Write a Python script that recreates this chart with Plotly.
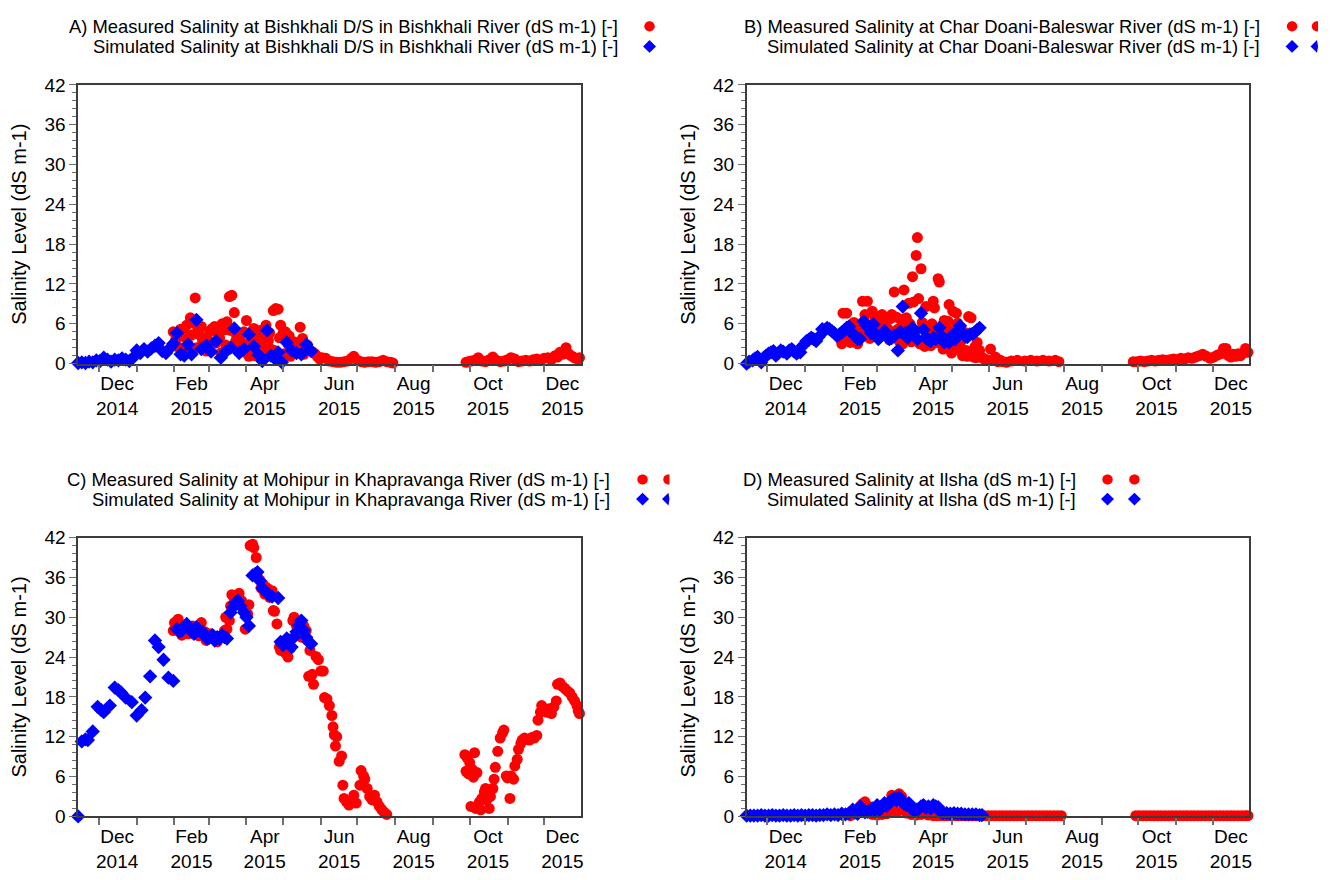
import math
import pandas as pd
import plotly.graph_objects as go

# ---------------- DATA ----------------
BASE_DATE = "2014-11-14"          # day 0 of the day offsets below
X_START, X_END = "2014-11-14", "2015-12-31"

month_starts = ["2014-12-01", "2015-01-01", "2015-02-01", "2015-03-01", "2015-04-01",
                "2015-05-01", "2015-06-01", "2015-07-01", "2015-08-01", "2015-09-01",
                "2015-10-01", "2015-11-01", "2015-12-01"]
label_dates = ["2014-12-16", "2015-02-15", "2015-04-16", "2015-06-16",
               "2015-08-16", "2015-10-16", "2015-12-16"]
label_text = ["Dec<br>2014", "Feb<br>2015", "Apr<br>2015", "Jun<br>2015",
              "Aug<br>2015", "Oct<br>2015", "Dec<br>2015"]

y_title = "Salinity Level (dS m-1)"

# Panel A : Bishkhali D/S
a_meas_day = [78, 80, 82, 84, 85, 86, 88, 89, 90, 92, 93, 94, 96, 97, 98, 100, 101, 102, 104, 105,
              106, 108, 109, 110, 112, 113, 114, 116, 117, 118, 120, 121, 122, 124, 125, 126, 128, 129, 130, 132,
              133, 134, 136, 137, 138, 140, 141, 142, 144, 145, 146, 148, 149, 150, 152, 153, 154, 156, 157, 158,
              160, 161, 162, 164, 165, 166, 168, 169, 170, 172, 173, 174, 176, 177, 178, 180, 181, 182, 184, 185,
              186, 188, 190, 192, 194, 196, 198, 200, 203, 206, 209, 212, 215, 218, 221, 224, 226, 229, 232, 235,
              238, 241, 244, 247, 250, 253, 256, 258,
              318, 320, 322, 325, 328, 331, 334, 337, 340, 343, 346, 349, 352, 355, 358, 361, 364, 367, 370, 373,
              376, 379, 382, 385, 388, 391, 393, 395, 397, 399, 400, 402, 404, 406, 408, 410, 411]
a_meas_val = [4.8, 3.6, 2.5, 5.2, 2.2, 4.1, 4.5, 5.8, 3.0, 6.9, 4.3, 6.2, 9.9, 2.4, 5.4, 4.3, 5.6, 3.4, 2.6, 1.9,
              3.8, 4.9, 2.9, 5.3, 5.6, 3.1, 4.7, 3.9, 1.6, 6.0, 5.1, 2.8, 6.3, 10.1, 5.0, 10.3, 7.7, 3.3, 4.0, 2.1,
              4.4, 3.2, 4.8, 1.7, 6.5, 1.1, 2.5, 3.6, 5.3, 1.2, 4.1, 2.8, 5.0, 4.0, 3.1, 1.8, 5.8, 3.5, 4.6, 2.2,
              8.0, 2.0, 8.3, 8.2, 3.9, 5.8, 4.6, 1.5, 4.8, 3.0, 4.2, 1.1, 2.1, 3.3, 1.5, 2.6, 1.9, 5.5, 3.8, 1.4,
              2.4, 2.8, 2.0, 1.8, 1.5, 1.1, 0.7, 0.9, 0.8, 0.4, 0.3, 0.2, 0.2, 0.3, 0.4, 0.8, 1.1, 0.5, 0.3, 0.2,
              0.3, 0.3, 0.2, 0.3, 0.5, 0.3, 0.2, 0.1,
              0.2, 0.3, 0.4, 0.5, 0.9, 0.4, 0.3, 0.6, 1.0, 0.5, 0.3, 0.4, 0.6, 0.9, 0.7, 0.3, 0.4, 0.5, 0.4, 0.6,
              0.7, 0.5, 0.8, 0.9, 0.6, 1.2, 1.0, 1.7, 1.4, 1.9, 2.4, 1.5, 1.2, 1.0, 0.8, 0.7, 0.9]
a_sim_day = [0, 3, 6, 9, 12, 15, 18, 21, 24, 27, 30, 33, 36, 39, 42, 45, 48, 51, 54, 57,
             60, 63, 66, 69, 72, 75, 78, 81, 84, 87, 90, 93, 97, 101, 105, 109, 113, 117, 121, 125,
             128, 132, 136, 140, 144, 148, 151, 155, 158, 161, 164, 167, 171, 175, 179, 183, 187, 191]
a_sim_val = [0.1, 0.2, 0.1, 0.3, 0.2, 0.5, 0.4, 0.9, 0.6, 0.3, 0.6, 0.5, 0.8, 0.6, 0.4, 0.9, 2.0, 1.6, 2.2, 1.8,
             2.3, 2.7, 3.1, 1.9, 1.6, 2.3, 3.0, 4.6, 1.4, 1.2, 2.9, 1.4, 6.6, 2.2, 2.7, 1.8, 3.4, 0.9, 1.8, 2.4,
             5.3, 1.6, 2.2, 4.4, 2.6, 1.3, 0.4, 5.0, 1.2, 0.8, 1.7, 0.2, 3.2, 2.0, 1.6, 1.4, 2.9, 1.9]

# Panel B : Char Doani-Baleswar
b_meas_day = [78, 79, 80, 82, 83, 84, 85, 86, 87, 88, 89, 90, 91, 92, 93, 94, 95, 96, 97, 98,
              99, 100, 101, 102, 103, 104, 105, 106, 107, 108, 109, 110, 111, 112, 113, 114, 115, 116, 117, 118,
              119, 120, 121, 122, 123, 124, 125, 126, 127, 128, 129, 130, 131, 132, 133, 134, 135, 136, 137, 138,
              139, 140, 141, 142, 143, 144, 145, 146, 147, 148, 149, 150, 151, 152, 153, 154, 155, 156, 157, 158,
              159, 160, 161, 162, 163, 164, 165, 166, 167, 168, 169, 170, 171, 172, 173, 174, 175, 176, 177, 178,
              179, 180, 181, 182, 183, 184, 185, 186, 187, 188, 189, 190, 191, 192, 194, 195, 197, 200, 202, 204,
              206, 208, 210, 213, 217, 222, 228, 233, 238, 243, 248, 253, 256,
              317, 320, 323, 326, 329, 332, 335, 338, 341, 344, 347, 350, 353, 356, 359, 362, 365, 368, 371, 374,
              377, 380, 383, 386, 389, 391, 393, 395, 397, 399, 401, 403, 405, 407, 409, 411]
b_meas_val = [3.0, 7.6, 4.0, 7.6, 3.6, 5.5, 3.2, 4.5, 3.3, 6.2, 5.8, 4.8, 3.0, 3.8, 5.2, 4.2, 9.4, 6.1, 7.4, 4.3,
              9.4, 4.2, 3.8, 5.8, 7.9, 4.6, 6.9, 7.1, 5.5, 4.7, 6.3, 7.1, 7.4, 4.4, 6.5, 7.0, 6.4, 5.2, 3.6, 6.8,
              7.4, 7.2, 10.8, 4.1, 7.0, 5.2, 3.4, 6.7, 5.6, 3.0, 11.1, 5.8, 6.9, 4.5, 9.1, 6.0, 3.3, 13.1, 9.3, 5.0,
              16.3, 19.0, 9.8, 3.0, 14.3, 6.2, 5.3, 2.6, 8.6, 4.5, 5.0, 3.0, 2.7, 6.0, 9.4, 8.4, 5.0, 3.2, 12.8, 12.3,
              4.8, 2.9, 2.2, 6.5, 5.2, 3.7, 6.4, 8.9, 2.5, 1.6, 7.9, 3.1, 5.4, 7.6, 6.1, 2.1, 2.5, 3.4, 1.2, 1.3,
              4.7, 2.0, 1.1, 7.1, 1.8, 6.9, 1.2, 1.0, 2.5, 0.9, 3.2, 1.4, 2.0, 1.0, 0.8, 0.7, 0.6, 2.2, 0.5, 1.0,
              0.3, 0.5, 0.3, 0.2, 0.4, 0.5, 0.4, 0.5, 0.4, 0.5, 0.4, 0.5, 0.3,
              0.3, 0.3, 0.4, 0.3, 0.4, 0.5, 0.4, 0.5, 0.6, 0.5, 0.6, 0.7, 0.6, 0.8, 0.7, 0.9, 0.8, 1.0, 1.2, 1.4,
              1.1, 0.8, 1.0, 1.3, 1.5, 2.3, 2.3, 1.2, 1.0, 1.4, 1.1, 1.5, 1.2, 1.6, 2.3, 1.7]
b_sim_day = [0, 2, 5, 7, 9, 12, 14, 16, 18, 20, 22, 24, 26, 28, 30, 33, 35, 37, 39, 41,
             44, 46, 49, 51, 53, 55, 57, 59, 62, 64, 66, 68, 70, 72, 74, 76, 78, 80, 82, 84,
             86, 88, 91, 93, 96, 98, 100, 102, 104, 106, 108, 110, 113, 115, 117, 119, 121, 124, 126, 128,
             130, 132, 134, 136, 138, 140, 143, 145, 147, 149, 151, 153, 155, 158, 160, 162, 164, 166, 169, 171,
             173, 175, 177, 179, 181, 183, 185, 187, 189, 191]
b_sim_val = [0.0, 0.3, 0.5, 0.8, 1.0, 0.2, 0.9, 1.2, 1.5, 1.7, 1.9, 1.2, 1.6, 2.0, 1.8, 1.5, 2.0, 2.2, 1.8, 1.5,
             1.7, 2.7, 3.4, 3.6, 3.9, 3.7, 3.4, 4.0, 5.2, 5.0, 5.4, 5.2, 4.9, 4.6, 4.2, 4.4, 4.7, 5.0, 5.4, 5.6,
             4.7, 4.3, 3.7, 3.7, 6.4, 5.8, 5.4, 4.6, 5.9, 4.4, 3.7, 4.1, 4.9, 4.4, 3.7, 3.9, 4.2, 2.0, 4.8, 8.6,
             4.6, 3.9, 4.4, 5.4, 4.9, 3.7, 7.6, 5.1, 3.9, 3.6, 3.4, 3.9, 3.7, 5.4, 4.1, 3.2, 3.5, 3.2, 4.3, 3.7,
             4.9, 5.7, 4.6, 4.2, 4.0, 4.4, 4.5, 4.7, 5.1, 5.4]

# Panel C : Mohipur, Khapravanga River
c_meas_day = [78, 79, 81, 82, 84, 85, 87, 88, 90, 92, 94, 96, 97, 99, 101, 103, 104, 105, 107, 109,
              111, 113, 114, 116, 118, 120, 121, 122, 124, 125, 126, 128, 129, 131, 132, 134, 136, 137, 139, 140,
              141, 143, 144, 146, 147, 149, 150, 152, 153, 155, 157, 159, 160, 161, 163, 165, 166, 168, 170, 172,
              174, 176, 177, 179, 181, 183, 185, 187, 188, 189, 190, 192, 193, 195, 197, 199, 201, 202, 204, 206,
              208, 209, 210, 211, 212, 214, 216, 217, 218, 220, 222, 224, 226, 228, 231, 232, 234, 235, 237, 239,
              241, 243, 245, 247, 249, 251, 253,
              317, 318, 319, 320, 321, 322, 323, 324, 325, 326, 327, 329, 330, 331, 333, 334, 335, 337, 338, 340,
              341, 342, 344, 346, 348, 349, 351, 352, 354, 355, 357, 358, 360, 361, 363, 364, 366, 368, 370, 372,
              374, 376, 377, 379, 380, 382, 384, 386, 388, 390, 392, 393, 395, 397, 399, 401, 403, 405, 407, 409,
              410, 411]
c_meas_val = [28.0, 29.2, 28.5, 29.7, 28.3, 27.3, 28.7, 27.8, 27.5, 28.0, 28.7, 27.6, 28.0, 27.2, 29.2, 27.5, 27.8, 26.5, 27.0, 27.5,
              26.8, 26.5, 26.3, 27.0, 27.3, 28.0, 30.0, 28.2, 29.5, 31.7, 33.4, 32.8, 32.2, 33.0, 33.6, 32.5, 31.9, 28.2, 30.5, 31.9,
              40.8, 41.0, 40.5, 39.0, 36.1, 35.6, 34.4, 34.9, 33.5, 34.4, 33.0, 34.0, 31.0, 30.9, 29.0, 25.5, 25.0, 26.3, 24.6, 24.0,
              25.3, 29.5, 30.0, 28.7, 27.5, 27.0, 28.7, 28.0, 26.5, 21.1, 25.0, 21.4, 19.9, 24.1, 23.6, 21.9, 21.9, 17.9, 17.7, 16.7,
              15.2, 13.5, 12.3, 10.6, 12.0, 8.3, 9.1, 4.7, 2.7, 2.2, 1.7, 2.4, 3.2, 2.0, 4.7, 6.9, 6.1, 5.6, 4.2, 3.0,
              2.5, 3.2, 2.2, 1.5, 1.0, 0.6, 0.3,
              9.3, 6.8, 8.8, 6.4, 8.1, 1.5, 7.1, 5.9, 9.6, 1.2, 6.6, 2.2, 1.0, 2.7, 3.7, 4.2, 2.5, 1.2, 3.0, 4.2,
              5.6, 7.4, 9.8, 11.8, 12.6, 13.0, 6.1, 5.8, 2.7, 6.1, 5.6, 7.6, 8.6, 10.1, 11.0, 11.5, 11.8, 11.6, 11.5, 11.9,
              11.8, 12.2, 14.5, 15.7, 16.7, 16.0, 15.7, 16.2, 15.5, 16.5, 17.4, 19.9, 20.1, 19.6, 19.3, 18.9, 18.6, 18.0, 17.4, 16.7,
              15.9, 15.5]
c_sim_day = [0, 3, 6, 8, 12, 16, 19, 21, 26, 30, 33, 35, 39, 44, 48, 52, 55, 59, 63, 66,
             70, 74, 78, 81, 83, 85, 87, 89, 91, 93, 95, 97, 99, 102, 104, 106, 108, 110, 112, 114,
             116, 118, 120, 122, 125, 127, 129, 131, 133, 136, 138, 140, 143, 145, 147, 149, 151, 153, 155, 157,
             159, 164, 166, 168, 171, 173, 175, 177, 179, 181, 183, 185, 187, 189, 191]
c_sim_val = [0.0, 11.3, 11.6, 11.5, 12.8, 16.5, 16.0, 15.7, 16.7, 19.4, 19.0, 18.7, 17.9, 17.2, 15.2, 16.0, 17.9, 21.1, 26.5, 25.5,
             23.6, 20.9, 20.4, 28.2, 27.8, 28.0, 28.6, 29.0, 28.3, 27.8, 27.5, 28.5, 28.0, 27.8, 27.2, 26.8, 27.0, 27.3, 26.5, 27.0,
             26.8, 27.3, 27.0, 26.8, 30.7, 31.5, 32.2, 32.5, 31.7, 30.7, 30.0, 28.7, 36.3, 36.5, 36.8, 35.5, 34.4, 34.0, 33.6, 33.3,
             33.1, 32.9, 26.3, 25.8, 26.8, 26.5, 25.5, 27.0, 27.8, 28.8, 29.5, 28.0, 27.0, 26.3, 26.0]

# Panel D : Ilsha
d_meas_day = [85, 87, 89, 91, 93, 95, 97, 99, 101, 103, 105, 107, 109, 111, 113, 115, 117, 119, 121, 123,
              125, 127, 129, 131, 133, 135, 137, 139, 141, 143, 145, 147, 149, 151, 153, 156, 159, 162, 165, 168,
              171, 174, 177, 180, 183, 186, 189, 192, 195, 198, 201, 204, 207, 210, 213, 216, 219, 222, 225, 228,
              231, 234, 237, 240, 243, 246, 249, 252, 255, 258,
              319, 322, 325, 328, 331, 334, 337, 340, 343, 346, 349, 352, 355, 358, 361, 364, 367, 370, 373, 376,
              379, 382, 385, 388, 391, 394, 397, 400, 403, 406, 409, 411]
d_meas_val = [0.1, 0.3, 0.8, 0.5, 1.5, 1.9, 2.2, 1.6, 0.6, 0.3, 0.5, 0.2, 0.6, 0.3, 0.8, 0.4, 1.2, 3.2, 1.0, 0.6,
              3.4, 3.0, 1.0, 0.5, 0.9, 0.3, 0.5, 0.2, 0.6, 0.3, 1.0, 0.4, 0.2, 0.3, 0.1, 0.1, 0.1, 0.1, 0.1, 0.1,
              0.1, 0.1, 0.1, 0.1, 0.1, 0.1, 0.1, 0.1, 0.1, 0.1, 0.1, 0.1, 0.1, 0.1, 0.1, 0.1, 0.1, 0.1, 0.1, 0.1,
              0.1, 0.1, 0.1, 0.1, 0.1, 0.1, 0.1, 0.1, 0.1, 0.1,
              0.1, 0.1, 0.1, 0.1, 0.1, 0.1, 0.1, 0.1, 0.1, 0.1, 0.1, 0.1, 0.1, 0.1, 0.1, 0.1, 0.1, 0.1, 0.1, 0.1,
              0.1, 0.1, 0.1, 0.1, 0.1, 0.1, 0.1, 0.1, 0.1, 0.1, 0.1, 0.1]
d_sim_day = [0, 3, 6, 9, 12, 15, 18, 21, 24, 27, 30, 33, 36, 39, 42, 45, 48, 51, 54, 57,
             60, 63, 66, 69, 72, 75, 78, 81, 84, 87, 89, 91, 93, 95, 97, 99, 101, 103, 105, 107,
             109, 111, 113, 115, 117, 119, 121, 123, 125, 127, 129, 131, 133, 135, 137, 139, 141, 143, 145, 147,
             149, 151, 153, 155, 157, 159, 161, 164, 167, 170, 173, 176, 179, 182, 185, 188, 191, 193]
d_sim_val = [0.1, 0.1, 0.1, 0.1, 0.2, 0.1, 0.1, 0.2, 0.1, 0.1, 0.2, 0.1, 0.1, 0.2, 0.1, 0.2, 0.1, 0.2, 0.2, 0.1,
             0.2, 0.2, 0.3, 0.2, 0.3, 0.2, 0.4, 0.3, 0.5, 1.0, 0.6, 0.4, 1.5, 0.9, 0.6, 0.7, 0.9, 1.2, 0.9, 1.7,
             1.0, 1.4, 2.0, 1.6, 2.2, 2.5, 2.7, 2.4, 2.9, 2.2, 1.9, 1.7, 2.0, 1.2, 0.9, 1.0, 1.1, 1.5, 1.7, 1.3,
             1.5, 1.2, 1.7, 1.5, 1.4, 0.7, 0.5, 0.5, 0.4, 0.5, 0.4, 0.4, 0.3, 0.3, 0.3, 0.3, 0.2, 0.2]

legend_labels = [
    ("A) Measured Salinity at Bishkhali D/S in Bishkhali River (dS m-1) [-]",
     "Simulated Salinity at Bishkhali D/S in Bishkhali River (dS m-1) [-]"),
    ("B) Measured Salinity at Char Doani-Baleswar River (dS m-1) [-]",
     "Simulated Salinity at Char Doani-Baleswar River (dS m-1) [-]"),
    ("C) Measured Salinity at Mohipur in Khapravanga River (dS m-1) [-]",
     "Simulated Salinity at Mohipur in Khapravanga River (dS m-1) [-]"),
    ("D) Measured Salinity at Ilsha (dS m-1) [-]",
     "Simulated Salinity at Ilsha (dS m-1) [-]"),
]

# ---------------- FIGURE ----------------
W, H = 1331, 880
FONT = "Liberation Sans, Arial, sans-serif"
RED, BLUE = "#ff0000", "#0000ff"
TICK_SIZE, TITLE_SIZE, LEG_SIZE = 19, 20, 18.4


def to_dates(days):
    return pd.Timestamp(BASE_DATE) + pd.to_timedelta(days, unit="D")


series = [
    (a_meas_day, a_meas_val, a_sim_day, a_sim_val),
    (b_meas_day, b_meas_val, b_sim_day, b_sim_val),
    (c_meas_day, c_meas_val, c_sim_day, c_sim_val),
    (d_meas_day, d_meas_val, d_sim_day, d_sim_val),
]
for md, mv, sd, sv in series:
    assert len(md) == len(mv), (len(md), len(mv))
    assert len(sd) == len(sv), (len(sd), len(sv))

# panel boxes in pixels: (left, right, top, bottom)
boxes = [(78.3, 582.0, 76.7, 362.3), (748.3, 1252.0, 76.7, 362.3),
         (78.3, 582.0, 540.5, 826.1), (748.3, 1252.0, 540.5, 826.1)]
# legend layout in pixels: text right edge, row y's, marker x's, clip x of the last marker
legend_pos = [(621, (16.7, 37.3), (651,), None),
              (1265, (16.7, 37.3), (1295, 1320), 1321),
              (613, (481, 501), (644, 670), 671),
              (1080, (481, 501), (1110, 1137), None)]

fig = go.Figure()
layout = dict(width=W, height=H, autosize=False, margin=dict(l=0, r=0, t=0, b=0),
              paper_bgcolor="white", plot_bgcolor="white", showlegend=False,
              font=dict(family=FONT, size=18, color="black"))

AXCOL = "#3c3c3c"
TICKCOL = "#6e6e6e"

for i, ((md, mv, sd, sv), (l, r, t, b)) in enumerate(zip(series, boxes)):
    n = "" if i == 0 else str(i + 1)
    xa, ya = "x" + n, "y" + n
    fig.add_trace(go.Scatter(x=to_dates(md), y=mv, mode="markers", xaxis=xa, yaxis=ya,
                             name=legend_labels[i][0], cliponaxis=False,
                             marker=dict(symbol="circle", size=11, color=RED, line=dict(width=0))))
    fig.add_trace(go.Scatter(x=to_dates(sd), y=sv, mode="markers", xaxis=xa, yaxis=ya,
                             name=legend_labels[i][1], cliponaxis=False,
                             marker=dict(symbol="diamond", size=11, color=BLUE, line=dict(width=0))))
    layout["xaxis" + n] = dict(
        domain=[l / W, r / W], anchor=ya, type="date", range=[X_START, X_END],
        tickmode="array", tickvals=label_dates, ticktext=label_text,
        ticks="outside", ticklen=2, tickcolor="rgba(0,0,0,0)",
        minor=dict(tickmode="array", tickvals=month_starts, ticks="outside",
                   ticklen=7, tickcolor=TICKCOL, tickwidth=1.5, showgrid=False),
        showline=True, linecolor=AXCOL, linewidth=1.5, mirror=True,
        showgrid=False, zeroline=False,
        tickfont=dict(family=FONT, size=TICK_SIZE, color="black"))
    layout["yaxis" + n] = dict(
        domain=[1 - b / H, 1 - t / H], anchor=xa, range=[0, 42],
        tickmode="linear", tick0=0, dtick=6,
        ticks="outside", ticklen=7, tickcolor=TICKCOL, tickwidth=1.2,
        minor=dict(tick0=0, dtick=1.2, ticks="outside", ticklen=4,
                   tickcolor=TICKCOL, tickwidth=1, showgrid=False),
        showline=True, linecolor=AXCOL, linewidth=1.5, mirror=True,
        showgrid=False, zeroline=False,
        tickfont=dict(family=FONT, size=TICK_SIZE, color="black"),
        title=dict(text=y_title, font=dict(family=FONT, size=TITLE_SIZE, color="black"), standoff=12))

fig.update_layout(**layout)


def poly_path(pts, clip):
    if clip is not None:
        pts = [(min(x, clip), y) for x, y in pts]
    return "M " + " L ".join(f"{x / W:.5f},{1 - y / H:.5f}" for x, y in pts) + " Z"


def circle_pts(cx, cy, r, n=28):
    return [(cx + r * math.cos(2 * math.pi * k / n), cy + r * math.sin(2 * math.pi * k / n)) for k in range(n)]


def diamond_pts(cx, cy, r):
    return [(cx, cy - r), (cx + r, cy), (cx, cy + r), (cx - r, cy)]


annotations, shapes = [], []
for (lab_m, lab_s), (xr, rows, mxs, clip) in zip(legend_labels, legend_pos):
    for lab, yy, kind in ((lab_m, rows[0], "m"), (lab_s, rows[1], "s")):
        annotations.append(dict(text=lab, x=xr / W, y=1 - yy / H, xref="paper", yref="paper",
                                xanchor="right", yanchor="middle", showarrow=False,
                                font=dict(family=FONT, size=LEG_SIZE, color="black")))
        for j, mx in enumerate(mxs):
            c = clip if j == len(mxs) - 1 else None
            if kind == "m":
                pts, col = circle_pts(mx, yy, 5.2), RED
            else:
                pts, col = diamond_pts(mx, yy, 6.5), BLUE
            shapes.append(dict(type="path", xref="paper", yref="paper", path=poly_path(pts, c),
                               fillcolor=col, line=dict(width=0), layer="above"))

fig.update_layout(annotations=annotations, shapes=shapes)
fig.write_html("out.html")
